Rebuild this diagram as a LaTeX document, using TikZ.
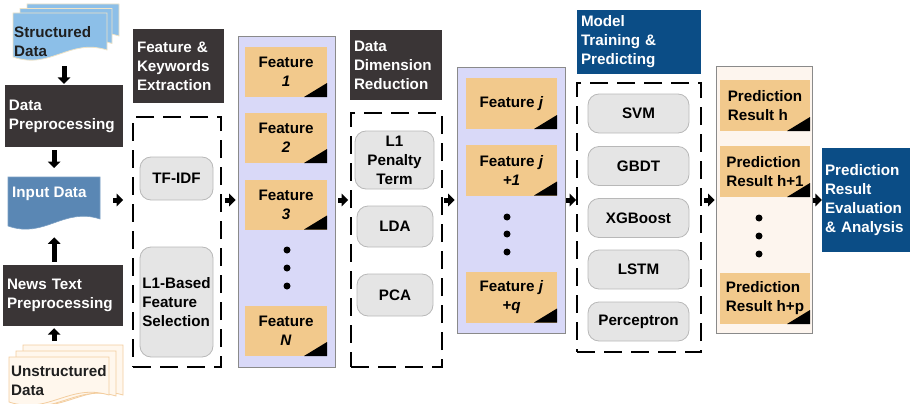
\documentclass[tikz,border=0pt]{standalone}
\usepackage{fontspec}
\setmainfont{Liberation Sans}
\usetikzlibrary{arrows.meta,calc}

\definecolor{boxdark}{HTML}{3A3536}
\definecolor{hdblue}{HTML}{0B4D86}
\definecolor{indocblue}{HTML}{5A87B4}
\definecolor{sdocblue}{HTML}{8CBFE8}
\definecolor{sdocedge}{HTML}{EFE3C6}
\definecolor{udocfill}{HTML}{FFF7ED}
\definecolor{udocedge}{HTML}{F3CD9E}
\definecolor{tanfill}{HTML}{F2C98C}
\definecolor{lavender}{HTML}{D9D9F8}
\definecolor{resfill}{HTML}{FDF5EE}
\definecolor{panedge}{HTML}{8A8A8A}
\definecolor{roundfill}{HTML}{E5E5E5}
\definecolor{roundedge}{HTML}{B8B8B8}

\tikzset{
  every node/.style={font=\bfseries\fontsize{15.2}{19}\selectfont},
  darkbox/.style={fill=boxdark, text=white, inner sep=4pt, align=left},
  bluebox/.style={fill=hdblue, text=white, inner sep=4pt, align=left},
  dashbox/.style={draw=black, line width=1.8pt, dash pattern=on 18pt off 9pt, inner sep=0pt},
  panel/.style={draw=panedge, line width=0.9pt, inner sep=0pt},
  roundbox/.style={fill=roundfill, draw=roundedge, line width=0.8pt, rounded corners=11pt, inner sep=2pt, align=center},
  tanbox/.style={fill=tanfill, inner sep=2pt, align=center,
    path picture={\fill[black] (path picture bounding box.south east) -- ++(-23pt,0pt) -- ++(23pt,14pt) -- cycle;}},
  resbox/.style={tanbox, align=left},
  dot/.style={circle, fill=black, inner sep=0pt, minimum size=7pt},
  doctxt/.style={inner sep=1pt, align=left, text=black!88},
  sdoc/.style={fill=sdocblue, draw=sdocedge, line width=0.8pt},
  idoc/.style={fill=indocblue, draw=indocblue!80!white, line width=0.6pt},
  udoc/.style={fill=udocfill, draw=udocedge, line width=0.8pt},
  blk/.style={line width=5pt, -{Triangle[length=6.5pt,width=12.5pt]}}
}

% document shape: name, x, y (top), width, height, style
\newcommand{\docshape}[6]{%
  \node[inner sep=0pt, minimum width=#4pt, minimum height=#5pt, anchor=north west] (#1) at (#2,#3) {};
  \begin{scope}[shift={(#2,#3)}]
    \draw[#6] (0,0) -- (#4,0) -- (#4,#5-10) .. controls (0.6*#4,#5-22) and (0.4*#4,#5+10) .. (0,#5-3) -- cycle;
  \end{scope}}

\begin{document}
\begin{tikzpicture}[x=1pt,y=-1pt]
\useasboundingbox (0,0) rectangle (910,404);
\coordinate (mid) at (0,200);

% left column
\docshape{sback}{27}{4}{92}{42}{sdoc}
\docshape{smid}{20}{8.5}{92}{45}{sdoc}
\docshape{sfront}{13}{13}{94}{47}{sdoc}
\node[doctxt, anchor=west] (sdata) at (13,42) {Structured\\Data};

\node[darkbox, minimum width=118pt, minimum height=62pt, text width=110pt] (dprep) at (64,116) {Data\\Preprocessing};

\docshape{indoc}{8}{177}{92}{52}{idoc}
\node[doctxt, text=white, anchor=west] (indata) at (11,194) {Input Data};

\node[darkbox, minimum width=120pt, minimum height=61pt, text width=112pt] (newsprep) at (63,295.5) {News Text\\Preprocessing};

\docshape{uback}{23}{345}{100}{60}{udoc}
\docshape{umid}{16}{351}{100}{55}{udoc}
\docshape{ufront}{9}{357}{100}{48}{udoc}
\node[doctxt, anchor=west] (udata) at (10,381) {Unstructured\\Data};

% feature & keyword extraction
\node[darkbox, minimum width=91pt, minimum height=74pt, text width=83pt] (fkehead) at (178.5,66) {Feature \&\\Keywords\\Extraction};
\node[dashbox, minimum width=88pt, minimum height=250pt] (fkebox) at (177,242) {};
\node[roundbox, minimum width=73pt, minimum height=43pt] (tfidf) at (176.5,178.5) {TF-IDF};
\node[roundbox, minimum width=73pt, minimum height=110pt, align=left] (l1sel) at (176.5,302) {L1-Based\\Feature\\Selection};

% all features
\node[panel, fill=lavender, minimum width=97pt, minimum height=331pt] (featpanel) at (286.5,201.5) {};
\foreach \nm/\yy/\txt in {feat1/72/{Feature\\\textit{1}}, feat2/138/{Feature\\\textit{2}},
    feat3/204.5/{Feature\\\textit{3}}, featN/331/{Feature\\\textit{N}}}
  \node[tanbox, minimum width=82pt, minimum height=50pt] (\nm) at (286,\yy) {\txt};
\foreach \i/\yy in {1/250,2/268,3/286}
  \node[dot] (fdot\i) at (287,\yy) {};

% dimension reduction
\node[darkbox, minimum width=92pt, minimum height=70pt, text width=84pt] (ddrhead) at (396,65) {Data\\Dimension\\Reduction};
\node[dashbox, minimum width=91pt, minimum height=254pt] (ddrbox) at (396.5,240) {};
\node[roundbox, minimum width=79pt, minimum height=58pt] (l1pen) at (394.5,160) {L1\\Penalty\\Term};
\node[roundbox, minimum width=76pt, minimum height=41pt] (lda) at (395,226.5) {LDA};
\node[roundbox, minimum width=76pt, minimum height=42pt] (pca) at (395,295) {PCA};

% selected features
\node[panel, fill=lavender, minimum width=108pt, minimum height=266pt] (selpanel) at (511,200) {};
\foreach \nm/\yy/\txt in {featj/103.5/{Feature \textit{j}}, featja/170/{Feature \textit{j}\\\textit{+1}},
    featjq/297/{Feature \textit{j}\\\textit{+q}}}
  \node[tanbox, minimum width=91pt, minimum height=51pt] (\nm) at (511.5,\yy) {\txt};
\foreach \i/\yy in {1/217,2/234,3/252}
  \node[dot] (sdot\i) at (507,\yy) {};

% model training
\node[bluebox, minimum width=124pt, minimum height=64pt, text width=116pt] (mtphead) at (639,42) {Model\\Training \&\\Predicting};
\node[dashbox, minimum width=124pt, minimum height=269pt] (mtpbox) at (639,217.5) {};
\foreach \nm/\yy/\txt in {svm/113.5/SVM, gbdt/166/GBDT, xgb/218/XGBoost, lstm/269.5/LSTM, perc/321.5/Perceptron}
  \node[roundbox, minimum width=101pt, minimum height=39pt] (\nm) at (638.5,\yy) {\txt};

% prediction results
\node[panel, fill=resfill, minimum width=96pt, minimum height=267pt] (respanel) at (764,199.5) {};
\node[resbox, minimum width=90pt, minimum height=51pt] (resh) at (765,105.5) {Prediction\\Result h};
\node[resbox, minimum width=90pt, minimum height=51pt] (resha) at (765,171.5) {Prediction\\Result h+1};
\node[resbox, minimum width=90pt, minimum height=51pt] (reshp) at (765,298.5) {Prediction\\Result h+p};
\foreach \i/\yy in {1/218,2/236,3/254}
  \node[dot] (rdot\i) at (759,\yy) {};

\node[bluebox, minimum width=88pt, minimum height=104pt, text width=82pt, inner sep=3pt] (evalbox) at (866,200) {Prediction\\Result\\Evaluation\\\& Analysis};

% arrows
\draw[blk, shorten <=6pt, shorten >=1pt] (dprep.north |- sfront.south) -- (dprep.north);
\draw[blk, shorten <=3pt, shorten >=9pt] (indoc.north |- dprep.south) -- (indoc.north);
\draw[blk, shorten <=3pt, shorten >=8pt] (indoc.south |- newsprep.north) -- (indoc.south);
\draw[blk, shorten <=4pt, shorten >=2pt] (indoc.south |- uback.north) -- (indoc.south |- newsprep.south);
\draw[blk, shorten <=13pt, shorten >=9pt] (indoc.east |- mid) -- (fkebox.west |- mid);
\draw[blk, shorten <=3pt, shorten >=2pt] (fkebox.east |- mid) -- (featpanel.west |- mid);
\draw[blk, shorten <=3pt, shorten >=2pt] (featpanel.east |- mid) -- (ddrbox.west |- mid);
\draw[blk, shorten <=1pt, shorten >=2pt] (ddrbox.east |- mid) -- (selpanel.west |- mid);
\draw[blk, shorten <=1pt, shorten >=0pt] (selpanel.east |- mid) -- (mtpbox.west |- mid);
\draw[blk, shorten <=2pt, shorten >=1pt] (mtpbox.east |- mid) -- (respanel.west |- mid);
\draw[blk, shorten <=1pt, shorten >=0pt] (respanel.east |- mid) -- (evalbox.west |- mid);
\end{tikzpicture}
\end{document}
